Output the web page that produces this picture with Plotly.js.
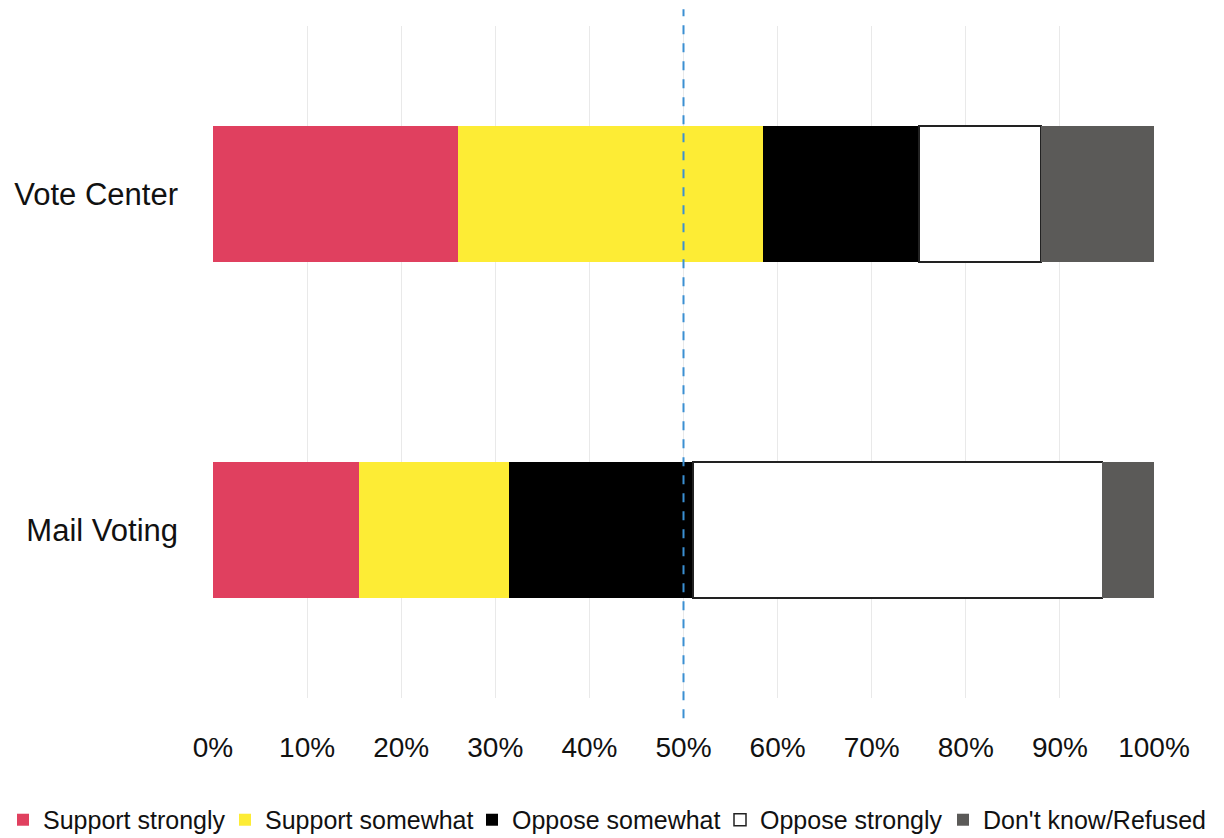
<!DOCTYPE html>
<html><head><meta charset="utf-8">
<script src="https://cdn.plot.ly/plotly-3.0.1.min.js"></script>
<style>body{margin:0;background:#fff}#chart{width:1224px;height:838px}</style>
</head><body><div id="chart"></div>
<script>
const categories = ["Mail Voting", "Vote Center"];
const seriesNames = ["Support strongly", "Support somewhat", "Oppose somewhat", "Oppose strongly", "Don't know/Refused"];
const supportStrongly = [15.5, 26];
const supportSomewhat = [16, 32.5];
const opposeSomewhat = [19.5, 16.5];
const opposeStrongly = [43.5, 13];
const dontKnow = [5.5, 12];
const tickValues = [0,10,20,30,40,50,60,70,80,90,100];
const tickLabels = ["0%","10%","20%","30%","40%","50%","60%","70%","80%","90%","100%"];
const referenceLine = 50;

const colors = ["#e0405f", "#fdec35", "#000000", "#ffffff", "#5b5a58"];
const lines = [0, 0, 0, 1.5, 0];
const legendX = [3, 225, 472, 720, 943];
const values = [supportStrongly, supportSomewhat, opposeSomewhat, opposeStrongly, dontKnow];
const font = '"Liberation Sans", Arial, sans-serif';
const legendIds = ['legend', 'legend2', 'legend3', 'legend4', 'legend5'];

const data = values.map((v, i) => ({
  type: 'bar', orientation: 'h', name: seriesNames[i],
  y: categories, x: v, width: 0.405, legend: legendIds[i],
  marker: {color: colors[i], line: {color: '#222', width: lines[i]}},
  hoverinfo: 'x+name'
}));

const layout = {
  width: 1224, height: 838,
  margin: {l: 213, r: 70, t: 26, b: 140},
  barmode: 'stack',
  paper_bgcolor: '#fff', plot_bgcolor: '#fff',
  showlegend: true,
  xaxis: {range: [0, 100], tickvals: tickValues, ticktext: tickLabels,
          showgrid: true, gridcolor: '#e9e9e9', gridwidth: 1, zeroline: false,
          showline: false, ticks: '', ticklabelstandoff: 30,
          tickfont: {family: font, size: 28, color: '#111'}},
  yaxis: {range: [-0.5, 1.5], showgrid: false, zeroline: false, showline: false,
          ticks: '', ticklabelstandoff: 34,
          tickfont: {family: font, size: 31, color: '#111'}},
  shapes: [{type: 'line', xref: 'x', yref: 'paper', x0: referenceLine, x1: referenceLine,
            y0: -0.03, y1: 1.025, line: {color: '#3b8fd2', width: 2, dash: 'dash'}}]
};
legendIds.forEach((id, i) => {
  layout[id] = {orientation: 'h', xref: 'container', yref: 'container',
    x: legendX[i] / 1224, xanchor: 'left', y: 0.0215, yanchor: 'middle',
    bgcolor: 'rgba(0,0,0,0)',
    font: {family: font, size: 25, color: '#111'}};
});
Plotly.newPlot('chart', data, layout, {displayModeBar: false, staticPlot: true});
</script></body></html>
